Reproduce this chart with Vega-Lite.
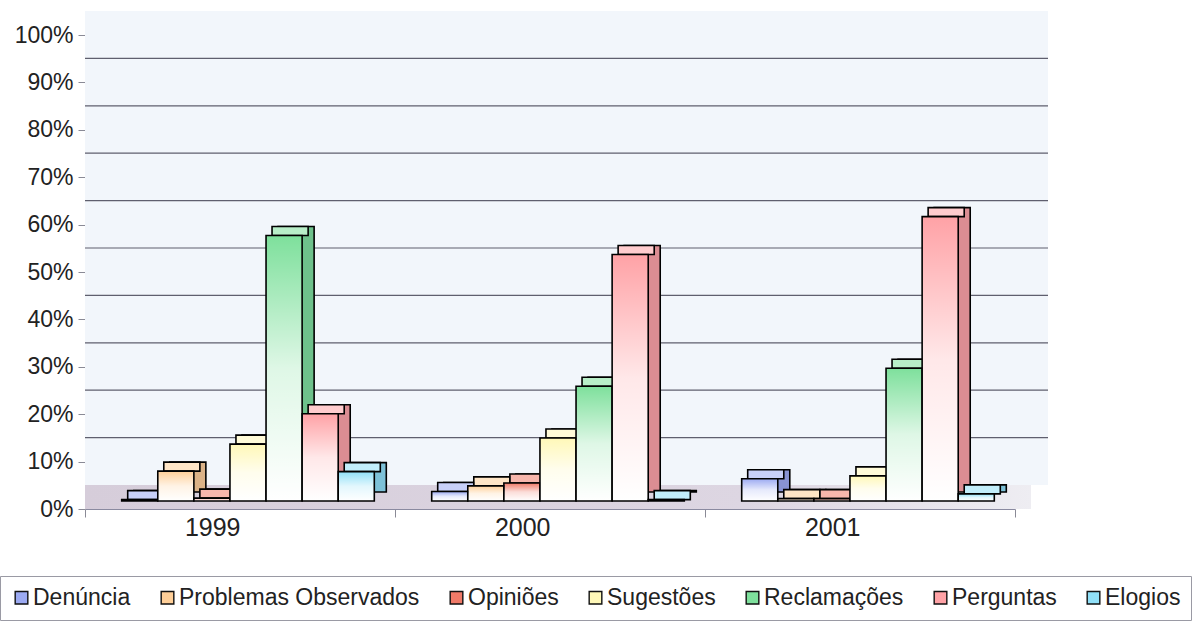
{
  "$schema": "https://vega.github.io/schema/vega-lite/v6.json",
  "width": 930,
  "height": 474,
  "autosize": {"type": "none"},
  "padding": {"left": 85, "top": 35, "right": 182, "bottom": 119},
  "background": "white",
  "config": {
    "view": {"stroke": null},
    "font": "Liberation Sans",
    "axis": {"labelFont": "Liberation Sans", "labelColor": "#222", "domainColor": "#8a8a96", "tickColor": "#8a8a96"}
  },
  "datasets": {
    "manifestacoes": [
      {"ano": "1999", "tipo": "Denúncia", "pct": 0.3},
      {"ano": "1999", "tipo": "Problemas Observados", "pct": 6.3},
      {"ano": "1999", "tipo": "Opiniões", "pct": 0.6},
      {"ano": "1999", "tipo": "Sugestões", "pct": 12},
      {"ano": "1999", "tipo": "Reclamações", "pct": 56},
      {"ano": "1999", "tipo": "Perguntas", "pct": 18.4},
      {"ano": "1999", "tipo": "Elogios", "pct": 6.2},
      {"ano": "2000", "tipo": "Denúncia", "pct": 2},
      {"ano": "2000", "tipo": "Problemas Observados", "pct": 3.2},
      {"ano": "2000", "tipo": "Opiniões", "pct": 3.8},
      {"ano": "2000", "tipo": "Sugestões", "pct": 13.3},
      {"ano": "2000", "tipo": "Reclamações", "pct": 24.2},
      {"ano": "2000", "tipo": "Perguntas", "pct": 52},
      {"ano": "2000", "tipo": "Elogios", "pct": 0.3},
      {"ano": "2001", "tipo": "Denúncia", "pct": 4.7},
      {"ano": "2001", "tipo": "Problemas Observados", "pct": 0.5},
      {"ano": "2001", "tipo": "Opiniões", "pct": 0.5},
      {"ano": "2001", "tipo": "Sugestões", "pct": 5.3},
      {"ano": "2001", "tipo": "Reclamações", "pct": 28},
      {"ano": "2001", "tipo": "Perguntas", "pct": 60},
      {"ano": "2001", "tipo": "Elogios", "pct": 1.5}
    ],
    "grade": [
      {"v": 10}, {"v": 20}, {"v": 30}, {"v": 40}, {"v": 50},
      {"v": 60}, {"v": 70}, {"v": 80}, {"v": 90}
    ]
  },
  "data": {"name": "manifestacoes"},
  "resolve": {"scale": {"xOffset": "independent"}},
  "layer": [
    {
      "description": "back wall",
      "mark": {"type": "rect", "fill": "#F2F6FB", "xOffset": 33, "x2Offset": 33, "yOffset": -24, "y2Offset": -24},
      "encoding": {
        "y": {"datum": 0, "type": "quantitative", "scale": {"domain": [0, 100]}},
        "y2": {"datum": 100}
      }
    },
    {
      "description": "floor",
      "mark": {
        "type": "rect",
        "xOffset": 16, "x2Offset": 16, "y2Offset": -24,
        "fill": {
          "gradient": "linear", "x1": 0, "y1": 0, "x2": 1, "y2": 0,
          "stops": [
            {"offset": 0, "color": "#D6CDDA"},
            {"offset": 0.7, "color": "#DDD6E2"},
            {"offset": 1, "color": "#EEEDF2"}
          ]
        }
      },
      "encoding": {
        "y": {"datum": 0, "type": "quantitative"},
        "y2": {"datum": 0}
      }
    },
    {
      "description": "gridlines on the back wall",
      "data": {"name": "grade"},
      "mark": {"type": "rule", "color": "#5f5f6e", "strokeWidth": 1.2, "xOffset": 33, "x2Offset": 33, "yOffset": -24, "y2Offset": -24},
      "encoding": {
        "y": {"field": "v", "type": "quantitative"}
      }
    },
    {
      "description": "side faces of the columns",
      "mark": {"type": "bar", "yOffset": -17, "y2Offset": -17},
      "encoding": {
        "x": {"field": "ano", "type": "nominal"},
        "xOffset": {"field": "tipo", "sort": null, "scale": {"range": [48.7, 301.3]}},
        "y": {"field": "pct", "type": "quantitative"},
        "color": {"field": "tipo", "sort": null}
      }
    },
    {
      "description": "shade on the side faces",
      "mark": {"type": "bar", "yOffset": -17, "y2Offset": -17, "fill": "rgba(30,30,50,0.16)", "stroke": "black", "strokeWidth": 1.6},
      "encoding": {
        "x": {"field": "ano", "type": "nominal"},
        "xOffset": {"field": "tipo", "sort": null, "scale": {"range": [48.7, 301.3]}},
        "y": {"field": "pct", "type": "quantitative"}
      }
    },
    {
      "description": "top faces of the columns",
      "mark": {"type": "bar", "yOffset": -17, "y2Offset": -8},
      "encoding": {
        "x": {"field": "ano", "type": "nominal"},
        "xOffset": {"field": "tipo", "sort": null, "scale": {"range": [42.7, 295.3]}},
        "y": {"field": "pct", "type": "quantitative"},
        "y2": {"field": "pct"},
        "color": {"field": "tipo", "sort": null}
      }
    },
    {
      "description": "light on the top faces",
      "mark": {"type": "bar", "yOffset": -17, "y2Offset": -8, "fill": "rgba(255,255,255,0.45)", "stroke": "black", "strokeWidth": 1.6},
      "encoding": {
        "x": {"field": "ano", "type": "nominal"},
        "xOffset": {"field": "tipo", "sort": null, "scale": {"range": [42.7, 295.3]}},
        "y": {"field": "pct", "type": "quantitative"},
        "y2": {"field": "pct"}
      }
    },
    {
      "description": "front faces, solid colour",
      "mark": {"type": "bar", "yOffset": -8, "y2Offset": -8},
      "encoding": {
        "x": {"field": "ano", "type": "nominal"},
        "xOffset": {"field": "tipo", "sort": null, "scale": {"range": [36.7, 289.3]}},
        "y": {"field": "pct", "type": "quantitative"},
        "color": {
          "field": "tipo",
          "sort": null,
          "title": null,
          "scale": {
            "domain": ["Denúncia", "Problemas Observados", "Opiniões", "Sugestões", "Reclamações", "Perguntas", "Elogios"],
            "range": ["#9CAAF2", "#FFCF98", "#F07A68", "#FFF8B8", "#7EE09C", "#FFA2A6", "#90E0F8"]
          },
          "legend": {
            "orient": "none",
            "legendX": -85,
            "legendY": 541,
            "direction": "horizontal",
            "columns": 7,
            "columnPadding": 25,
            "symbolType": "square",
            "symbolSize": 160,
            "symbolStrokeColor": "#111",
            "symbolStrokeWidth": 1.4,
            "symbolOpacity": 1,
            "labelFont": "Liberation Sans",
            "labelFontSize": 23,
            "labelColor": "#222",
            "labelOffset": 0,
            "labelLimit": 400,
            "strokeColor": "#9a9aa4",
            "fillColor": "white",
            "padding": 10
          }
        }
      }
    },
    {
      "description": "front faces, white fade and outline",
      "mark": {
        "type": "bar", "yOffset": -8, "y2Offset": -8,
        "stroke": "black", "strokeWidth": 1.6,
        "fill": {
          "gradient": "linear", "x1": 0, "y1": 0, "x2": 0, "y2": 1,
          "stops": [
            {"offset": 0, "color": "rgba(255,255,255,0)"},
            {"offset": 0.5, "color": "rgba(255,255,255,0.75)"},
            {"offset": 1, "color": "rgba(255,255,255,1)"}
          ]
        }
      },
      "encoding": {
        "x": {
          "field": "ano", "type": "nominal", "title": null,
          "scale": {"paddingInner": 0, "paddingOuter": 0},
          "axis": {
            "labelAngle": 0, "labelFontSize": 25, "labelPadding": 10,
            "tickBand": "extent", "tickSize": 8, "domainColor": "#8a8aa0", "domainWidth": 1.2
          }
        },
        "xOffset": {"field": "tipo", "sort": null, "scale": {"range": [36.7, 289.3]}},
        "y": {
          "field": "pct", "type": "quantitative", "title": null,
          "scale": {"domain": [0, 100]},
          "axis": {
            "values": [0, 10, 20, 30, 40, 50, 60, 70, 80, 90, 100],
            "labelExpr": "datum.value + '%'",
            "labelFontSize": 23, "tickSize": 7, "labelPadding": 5, "grid": false,
            "domainColor": "#9a9aa4"
          }
        }
      }
    }
  ]
}
